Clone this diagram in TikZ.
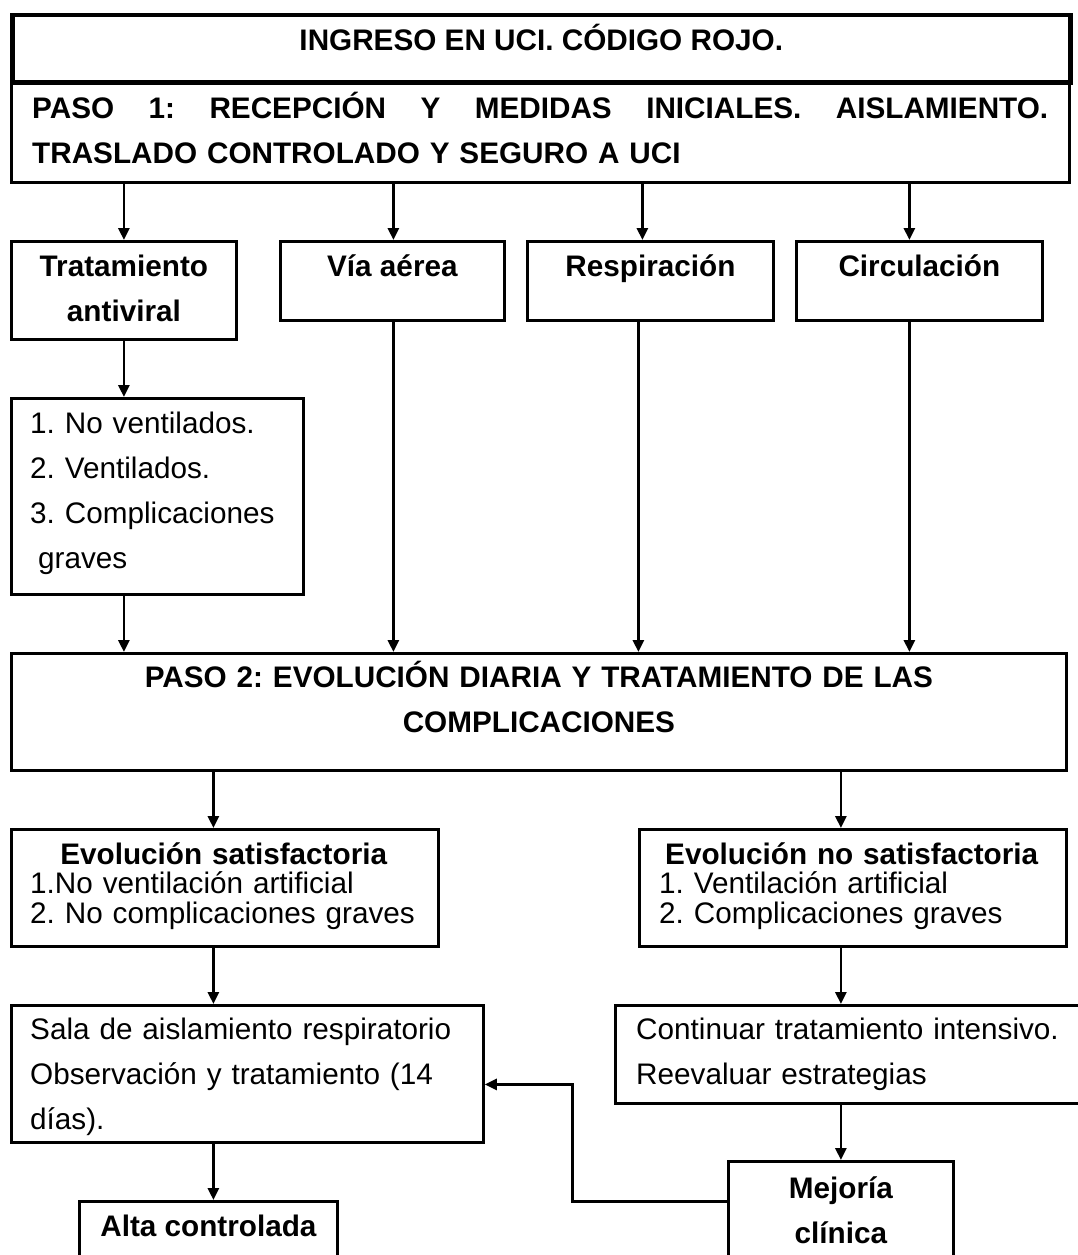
\documentclass[tikz,border=0pt]{standalone}
\usepackage{fontspec}
\setmainfont{Liberation Sans}
\usetikzlibrary{arrows.meta, positioning}
\frenchspacing

\tikzset{
  frame/.style={draw, line width=2.8pt, inner sep=0pt, anchor=north west},
  txt/.style={inner sep=0pt, font=\fontsize{29.7pt}{45pt}\selectfont},
  head/.style={txt, font=\fontsize{29.7pt}{45pt}\selectfont\bfseries},
  flow/.style={line width=2.8pt, -{Triangle[length=12pt, width=11pt]}},
}

\begin{document}
\begin{tikzpicture}[x=1pt, y=-1pt]
  \useasboundingbox (0,0) rectangle (1078,1255);
  \clip (0,0) rectangle (1078,1255);
  \fill[white] (0,0) rectangle (1078,1255);

  % frames
  \node[frame, line width=4.5pt, minimum width=1058pt, minimum height=67pt] (ingreso) at (10,13) {};
  \node[frame, minimum width=1058pt, minimum height=99pt] (paso1) at (10,82) {};
  \node[frame, minimum width=225pt, minimum height=98pt] (tto) at (10,240) {};
  \node[frame, minimum width=224pt, minimum height=79pt] (via) at (279,240) {};
  \node[frame, minimum width=246pt, minimum height=79pt] (resp) at (526,240) {};
  \node[frame, minimum width=246pt, minimum height=79pt] (circ) at (795,240) {};
  \node[frame, minimum width=292pt, minimum height=196pt] (lista) at (10,397) {};
  \node[frame, minimum width=1055pt, minimum height=117pt] (paso2) at (10,652) {};
  \node[frame, minimum width=427pt, minimum height=117pt] (sat) at (10,828) {};
  \node[frame, minimum width=427pt, minimum height=117pt] (nosat) at (638,828) {};
  \node[frame, minimum width=472pt, minimum height=137pt] (sala) at (10,1004) {};
  \node[frame, minimum width=480pt, minimum height=98pt] (cont) at (614,1004) {};
  \node[frame, minimum width=225pt, minimum height=120pt] (mejoria) at (727,1160) {};
  \node[frame, minimum width=258pt, minimum height=100pt] (alta) at (78,1200) {};

  % texts
  \node[head, anchor=base] (ingreso-t) at ([yshift=-38pt]ingreso.north) {INGRESO EN UCI. CÓDIGO ROJO.};
  \node[head, text width=1016pt, align=left, anchor=base west] (paso1-t) at ([shift={(22,36)}]paso1.north west)
    {\hbox to 1016pt{PASO\hfill 1:\hfill RECEPCIÓN\hfill Y\hfill MEDIDAS\hfill INICIALES.\hfill AISLAMIENTO.}\\TRASLADO CONTROLADO Y SEGURO A UCI};
  \node[head, text width=225pt, align=center, anchor=base] (tto-t) at ([yshift=-36pt]tto.north) {Tratamiento\\antiviral};
  \node[head, anchor=base] (via-t) at ([yshift=-36pt]via.north) {Vía aérea};
  \node[head, anchor=base] (resp-t) at ([yshift=-36pt]resp.north) {Respiración};
  \node[head, anchor=base] (circ-t) at ([yshift=-36pt]circ.north) {Circulación};
  \node[txt, text width=270pt, align=left, anchor=base west] (lista-t) at ([shift={(20,36)}]lista.north west)
    {1. No ventilados.\\2. Ventilados.\\3. Complicaciones\\\hspace*{8pt}graves};
  \node[head, text width=1055pt, align=center, anchor=base] (paso2-t) at ([yshift=-35pt]paso2.north)
    {PASO 2: EVOLUCIÓN DIARIA Y TRATAMIENTO DE LAS\\COMPLICACIONES};
  \node[txt, text width=405pt, align=left, anchor=base west, font=\fontsize{29.7pt}{29.5pt}\selectfont] (sat-t)
    at ([shift={(20,36)}]sat.north west)
    {\makebox[387pt]{\bfseries Evolución satisfactoria}\\1.No ventilación artificial\\2. No complicaciones graves};
  \node[txt, text width=405pt, align=left, anchor=base west, font=\fontsize{29.7pt}{29.5pt}\selectfont] (nosat-t)
    at ([shift={(21,36)}]nosat.north west)
    {\makebox[385pt]{\bfseries Evolución no satisfactoria}\\1. Ventilación artificial\\2. Complicaciones graves};
  \node[txt, text width=452pt, align=left, anchor=base west] (sala-t) at ([shift={(20,35)}]sala.north west)
    {Sala de aislamiento respiratorio\\Observación y tratamiento (14\\días).};
  \node[txt, text width=450pt, align=left, anchor=base west] (cont-t) at ([shift={(22,35)}]cont.north west)
    {Continuar tratamiento intensivo.\\Reevaluar estrategias};
  \node[head, text width=225pt, align=center, anchor=base] (mejoria-t) at ([yshift=-38pt]mejoria.north) {Mejoría\\clínica};
  \node[head, anchor=base] (alta-t) at ([yshift=-36pt]alta.north) {Alta controlada};

  % columns of the connectors
  \coordinate (colL) at ([xshift=-11.5pt]sat.north);
  \coordinate (colR) at (mejoria.north);

  % connectors
  \draw[flow] (paso1.south -| tto.north) -- (tto.north);
  \draw[flow] ([xshift=1pt]paso1.south -| via.north) -- ([xshift=1pt]via.north);
  \draw[flow] ([xshift=-8pt]paso1.south -| resp.north) -- ([xshift=-8pt]resp.north);
  \draw[flow] ([xshift=-10pt]paso1.south -| circ.north) -- ([xshift=-10pt]circ.north);
  \draw[flow] (tto.south) -- (lista.north -| tto.south);
  \draw[flow] (lista.south -| tto.south) -- (paso2.north -| tto.south);
  \draw[flow] ([xshift=1pt]via.south) -- ([xshift=1pt]paso2.north -| via.south);
  \draw[flow] ([xshift=-12pt]resp.south) -- ([xshift=-12pt]paso2.north -| resp.south);
  \draw[flow] ([xshift=-10pt]circ.south) -- ([xshift=-10pt]paso2.north -| circ.south);
  \draw[flow] (paso2.south -| colL) -- (sat.north -| colL);
  \draw[flow] (paso2.south -| colR) -- (nosat.north -| colR);
  \draw[flow] (sat.south -| colL) -- (sala.north -| colL);
  \draw[flow] (nosat.south -| colR) -- (cont.north -| colR);
  \draw[flow] (sala.south -| colL) -- (alta.north -| colL);
  \draw[flow] (cont.south -| colR) -- (mejoria.north);
  \draw[flow] ([yshift=20pt]mejoria.west) -| ([shift={(88,10.5)}]sala.east) -- ([yshift=-10.5pt]sala.east);
\end{tikzpicture}
\end{document}
